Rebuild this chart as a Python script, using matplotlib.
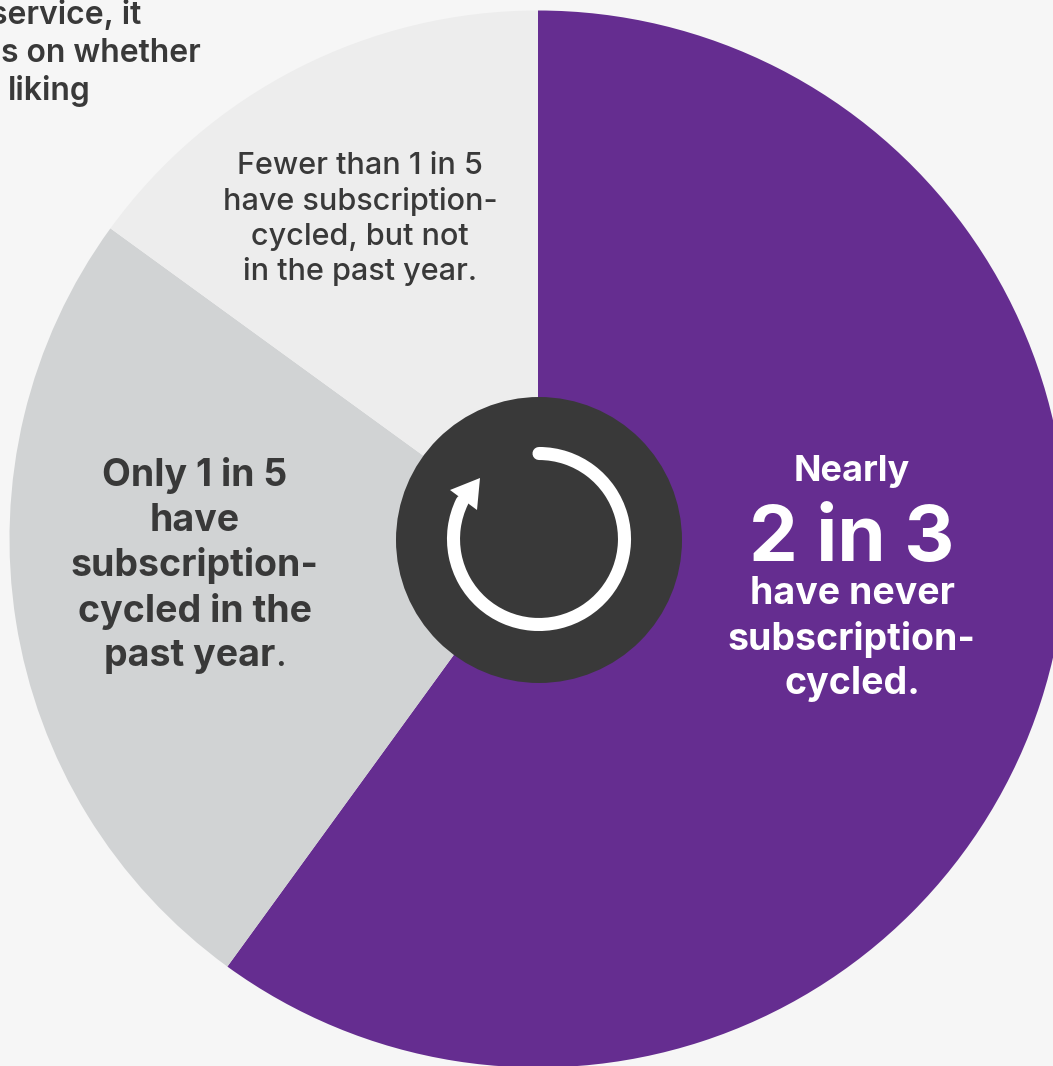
#!/usr/bin/env python3
from matplotlib import pyplot as plt
from matplotlib.patches import Arc, Circle, Polygon

W, H = 1053, 1066

labels = ['Never', 'In the past year', 'Not in the past year']
shares = [60, 25, 15]
colors = ['#652d90', '#d1d3d4', '#ededed']

DARK = '#393939'
plt.rcParams['font.family'] = ['Inter', 'DejaVu Sans']


def px(y):
    # reference pixels count down from the top
    return H - y


def lines(x, ys, rows, size, color, weight='semibold'):
    for y, row in zip(ys, rows):
        ax.text(x, px(y), row, ha='center', va='center', fontsize=size, color=color, fontweight=weight)


fig = plt.figure(figsize=(W / 100, H / 100), dpi=100, facecolor='#f6f6f6')
ax = fig.add_axes([0, 0, 1, 1])

ax.pie(shares, colors=colors, startangle=90, counterclock=False, center=(538, px(539)), radius=528.5, frame=True)
ax.set_xlim(0, W)
ax.set_ylim(0, H)
ax.axis('off')

# hub with the cycle icon
ax.add_patch(Circle((539, px(540)), 143, facecolor=DARK, edgecolor='none', zorder=3))
ax.add_patch(Arc((539, px(539)), 171, 171, theta1=-206, theta2=90, color='white', lw=9.4, capstyle='round', zorder=4))
ax.add_patch(Polygon([(480, px(478)), (450, px(490)), (477, px(510))], facecolor='white', edgecolor='none', zorder=5))

# cut off heading at the top left
ax.text(141, px(15), 'service, it', ha='right', va='center', fontsize=23, color=DARK, fontweight='semibold')
ax.text(201, px(53), 's on whether', ha='right', va='center', fontsize=23, color=DARK, fontweight='semibold')
ax.text(91, px(91), 'liking', ha='right', va='center', fontsize=23, color=DARK, fontweight='semibold')

lines(360, [166, 202, 237, 272],
      ['Fewer than 1 in 5', 'have subscription-', 'cycled, but not', 'in the past year.'],
      22, DARK, 'medium')
lines(195, [476, 521, 566, 611],
      ['Only 1 in 5', 'have', 'subscription-', 'cycled in the'],
      27, DARK, 'bold')
lines(190, [656], ['past year'], 27, DARK, 'bold')
lines(281, [656], ['.'], 27, DARK, 'normal')
lines(852, [472], ['Nearly'], 26, 'white', 'bold')
lines(852, [540], ['2 in 3'], 56, 'white', 'bold')
lines(852, [594, 639, 684], ['have never', 'subscription-', 'cycled.'], 27, 'white', 'bold')

fig.savefig('out.png', dpi=100, facecolor=fig.get_facecolor())
